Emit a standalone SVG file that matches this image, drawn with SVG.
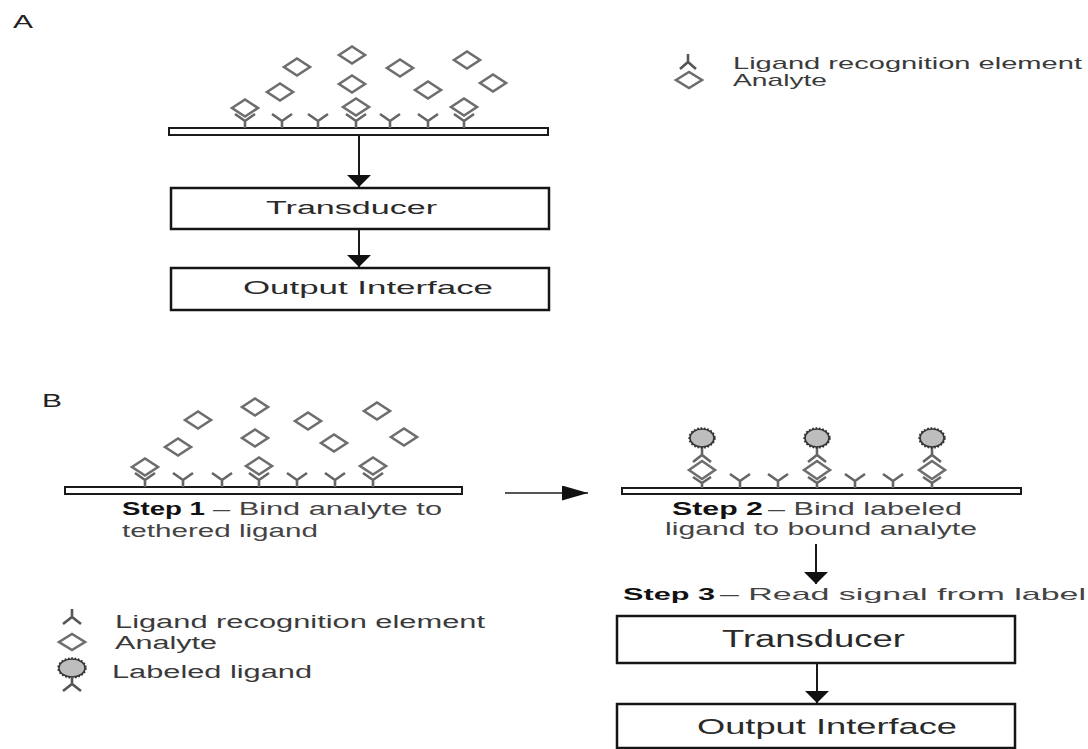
<svg xmlns="http://www.w3.org/2000/svg" width="1088" height="749" viewBox="0 0 1088 749">
<defs>
<style>
text{font-family:"Liberation Sans",Arial,sans-serif;fill:#2a2a2a}
.lbl{font-size:18px;fill:#222}
.leg{font-size:17px;fill:#3a3a3a}
.st{font-size:18px;fill:#444}
.stb{font-size:18px;font-weight:bold;fill:#111}
.bx{font-size:19px;fill:#2a2a2a}
.bxb{font-size:22px;fill:#2a2a2a}
.bar{fill:#fff;stroke:#1a1a1a;stroke-width:2}
.box{fill:#fff;stroke:#151515;stroke-width:2.5}
.dia{fill:none;stroke:#6e6e6e;stroke-width:2.6;stroke-linejoin:miter}
.lig{fill:none;stroke:#666;stroke-width:2.6;stroke-linecap:butt}
.ligd{fill:none;stroke:#555;stroke-width:2.6}
.lab{fill:#bdbdbd;stroke:#333;stroke-width:1.6}
.labt{fill:none;stroke:#333;stroke-width:3.4;stroke-dasharray:1.6 1.6}
.conn{stroke:#1a1a1a;stroke-width:2;fill:none}
.connh{stroke:#555;stroke-width:2.2;fill:none}
</style>
<marker id="arrV" viewBox="0 0 12 24" refX="12" refY="12" markerWidth="12" markerHeight="24" markerUnits="userSpaceOnUse" orient="auto">
<path d="M0,0 L12,12 L0,24 Z" fill="#111"/>
</marker>
<marker id="arrH" viewBox="0 0 26 15" refX="26" refY="7.5" markerWidth="26" markerHeight="15" markerUnits="userSpaceOnUse" orient="auto">
<path d="M0,0 L26,7.5 L0,15 Z" fill="#111"/>
</marker>
<path id="d" d="M-13,0 L0,-8.5 L13,0 L0,8.5 Z"/>
<path id="y" d="M-10,-14 L0,-7 L10,-14 M0,-7 L0,0"/>
</defs>
<rect width="1088" height="749" fill="#fff"/>

<g id="labels">
<text class="lbl" x="13" y="28" textLength="20" lengthAdjust="spacingAndGlyphs">A</text>
<text class="lbl" x="42" y="407" textLength="20" lengthAdjust="spacingAndGlyphs" style="font-size:19px">B</text>
</g>

<g id="surfaceA">
<rect class="bar" x="169" y="128" width="379" height="7"/>
<g class="lig">
<use href="#y" x="245" y="128"/><use href="#y" x="282" y="128"/><use href="#y" x="318" y="128"/><use href="#y" x="356" y="128"/><use href="#y" x="390" y="128"/><use href="#y" x="428" y="128"/><use href="#y" x="464" y="128"/>
</g>
<g class="dia">
<use href="#d" x="245" y="108"/><use href="#d" x="356" y="107"/><use href="#d" x="464" y="107"/>
<use href="#d" x="297" y="67"/><use href="#d" x="352" y="55"/><use href="#d" x="400" y="68"/><use href="#d" x="467" y="60"/>
<use href="#d" x="280" y="92"/><use href="#d" x="352" y="84"/><use href="#d" x="428" y="90"/><use href="#d" x="493" y="83"/>
</g>
</g>

<g id="transducerA">
<rect class="box" x="171" y="188" width="378" height="41"/>
<text class="bx" x="266" y="214" textLength="171" lengthAdjust="spacingAndGlyphs" style="font-size:18px">Transducer</text>
</g>
<g id="outputA">
<rect class="box" x="171" y="268" width="378" height="42"/>
<text class="bx" x="243" y="294" textLength="250" lengthAdjust="spacingAndGlyphs">Output Interface</text>
</g>

<g id="legendA">
<path class="ligd" d="M688,54 L688,62 M680,69 L688,62 L696,69"/>
<path class="dia" d="M676,80 L689,72 L702,80 L689,88 Z"/>
<text class="leg" x="733" y="69" textLength="349" lengthAdjust="spacingAndGlyphs">Ligand recognition element</text>
<text class="leg" x="733" y="86" textLength="94" lengthAdjust="spacingAndGlyphs">Analyte</text>
</g>

<g id="surfaceB1">
<rect class="bar" x="65" y="487" width="397" height="7"/>
<g class="lig">
<use href="#y" x="145" y="487"/><use href="#y" x="183" y="487"/><use href="#y" x="222" y="487"/><use href="#y" x="259" y="487"/><use href="#y" x="297" y="487"/><use href="#y" x="335" y="487"/><use href="#y" x="373" y="487"/>
</g>
<g class="dia">
<use href="#d" x="145" y="467"/><use href="#d" x="259" y="466"/><use href="#d" x="373" y="466"/>
<use href="#d" x="198" y="420"/><use href="#d" x="255" y="407"/><use href="#d" x="308" y="421"/><use href="#d" x="377" y="411"/>
<use href="#d" x="178" y="447"/><use href="#d" x="255" y="438"/><use href="#d" x="334" y="443"/><use href="#d" x="404" y="437"/>
</g>
<text class="stb" x="122" y="515" textLength="83" lengthAdjust="spacingAndGlyphs">Step 1</text>
<text class="st" x="213" y="515" textLength="229" lengthAdjust="spacingAndGlyphs">– Bind analyte to</text>
<text class="st" x="122" y="537" textLength="196" lengthAdjust="spacingAndGlyphs">tethered ligand</text>
</g>

<g id="surfaceB2">
<rect class="bar" x="622" y="488" width="399" height="6"/>
<g class="lig">
<use href="#y" x="740" y="488"/><use href="#y" x="778" y="488"/><use href="#y" x="855" y="488"/><use href="#y" x="893" y="488"/>
</g>
<g id="boundLabel1">
<path class="lig" d="M702,447 L702,455 M693,462 L702,455 L711,462 M693,477 L702,483 L711,477 M702,483 L702,488"/>
<path class="dia" d="M689,470 L702,461 L715,470 L702,479 Z"/>
<ellipse class="labt" cx="702" cy="438" rx="12" ry="9"/>
<ellipse class="lab" cx="702" cy="438" rx="12" ry="9"/>
</g>
<g id="boundLabel2">
<path class="lig" d="M817,447 L817,455 M808,462 L817,455 L826,462 M808,477 L817,483 L826,477 M817,483 L817,488"/>
<path class="dia" d="M804,470 L817,461 L830,470 L817,479 Z"/>
<ellipse class="labt" cx="817" cy="438" rx="12" ry="9"/>
<ellipse class="lab" cx="817" cy="438" rx="12" ry="9"/>
</g>
<g id="boundLabel3">
<path class="lig" d="M932,447 L932,455 M923,462 L932,455 L941,462 M923,477 L932,483 L941,477 M932,483 L932,488"/>
<path class="dia" d="M919,470 L932,461 L945,470 L932,479 Z"/>
<ellipse class="labt" cx="932" cy="438" rx="12" ry="9"/>
<ellipse class="lab" cx="932" cy="438" rx="12" ry="9"/>
</g>
<text class="stb" x="672" y="515" textLength="91" lengthAdjust="spacingAndGlyphs">Step 2</text>
<text class="st" x="768" y="515" textLength="194" lengthAdjust="spacingAndGlyphs">– Bind labeled</text>
<text class="st" x="665" y="535" textLength="312" lengthAdjust="spacingAndGlyphs">ligand to bound analyte</text>
</g>

<g id="step3">
<text class="stb" x="623" y="600" textLength="92" lengthAdjust="spacingAndGlyphs" style="font-size:17px">Step 3</text>
<text class="st" x="720" y="600" textLength="366" lengthAdjust="spacingAndGlyphs" style="font-size:17px">– Read signal from label</text>
</g>

<g id="transducerB">
<rect class="box" x="617" y="616" width="398" height="47"/>
<text class="bxb" x="722" y="647" textLength="183" lengthAdjust="spacingAndGlyphs" style="font-size:23px">Transducer</text>
</g>
<g id="outputB">
<rect class="box" x="617" y="704" width="398" height="44"/>
<text class="bxb" x="697" y="734" textLength="260" lengthAdjust="spacingAndGlyphs">Output Interface</text>
</g>

<g id="legendB">
<path class="ligd" d="M72,609 L72,617 M63,624 L72,617 L81,624"/>
<path class="dia" d="M59,642 L72,634 L85,642 L72,650 Z"/>
<ellipse class="labt" cx="72" cy="668" rx="13" ry="9"/>
<ellipse class="lab" cx="72" cy="668" rx="13" ry="9"/>
<path class="ligd" d="M72,677 L72,684 M63,691 L72,684 L81,691"/>
<text class="leg" x="115" y="628" textLength="370" lengthAdjust="spacingAndGlyphs" style="font-size:18px">Ligand recognition element</text>
<text class="leg" x="115" y="649" textLength="102" lengthAdjust="spacingAndGlyphs" style="font-size:18px">Analyte</text>
<text class="leg" x="112" y="678" textLength="200" lengthAdjust="spacingAndGlyphs" style="font-size:18px">Labeled ligand</text>
</g>

<g id="connectors">
<line class="conn" x1="359" y1="135" x2="359" y2="187" marker-end="url(#arrV)"/>
<line class="conn" x1="359" y1="229" x2="359" y2="267" marker-end="url(#arrV)"/>
<line class="connh" x1="505" y1="493" x2="588" y2="493" marker-end="url(#arrH)"/>
<line class="conn" x1="816" y1="544" x2="816" y2="584" marker-end="url(#arrV)"/>
<line class="conn" x1="817" y1="663" x2="817" y2="703" marker-end="url(#arrV)"/>
</g>
</svg>
